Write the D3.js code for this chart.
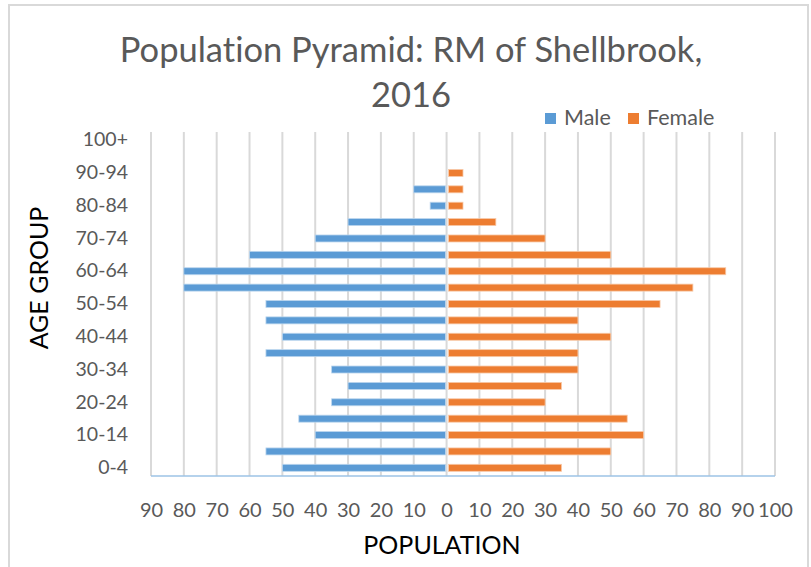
<!DOCTYPE html>
<html>
<head>
<meta charset="utf-8">
<script src="https://cdn.jsdelivr.net/npm/d3@7"></script>
<style>
  body { margin: 0; background: #fff; }
  text { font-family: Lato, "Open Sans", sans-serif; font-variant-ligatures: none; }
</style>
</head>
<body>
<div id="chart"></div>
<script>
// Age groups, bottom to top
const ageGroups = ["0-4", "5-9", "10-14", "15-19", "20-24", "25-29", "30-34", "35-39",
  "40-44", "45-49", "50-54", "55-59", "60-64", "65-69", "70-74", "75-79",
  "80-84", "85-89", "90-94", "95-99", "100+"];
const maleValues = [50, 55, 40, 45, 35, 30, 35, 55, 50, 55, 55, 80, 80, 60, 40, 30, 5, 10, 0, 0, 0];
const femaleValues = [35, 50, 60, 55, 30, 35, 40, 40, 50, 40, 65, 75, 85, 50, 30, 15, 5, 5, 5, 0, 0];
const shownAgeLabels = ["0-4", "10-14", "20-24", "30-34", "40-44", "50-54", "60-64", "70-74", "80-84", "90-94", "100+"];
const xTicks = d3.range(-90, 101, 10);
const seriesNames = ["Male", "Female"];

const width = 811;
const height = 567;
const plot = { left: 151, right: 775, top: 132, bottom: 476 };
const colors = { Male: "#5B9BD5", Female: "#ED7D31" };

const svg = d3.select("#chart")
  .append("svg")
  .attr("width", width)
  .attr("height", height);

// Chart frame
svg.append("rect")
  .attr("x", 9)
  .attr("y", 5)
  .attr("width", 799)
  .attr("height", 580)
  .attr("fill", "#fff")
  .attr("stroke", "#d9d9d9")
  .attr("stroke-width", 2);

// Scales
const x = d3.scaleLinear()
  .domain([-90, 100])
  .range([plot.left, plot.right]);
const y = d3.scaleBand()
  .domain(ageGroups)
  .range([plot.bottom, plot.top]);

// Vertical gridlines
svg.append("g")
  .selectAll("line")
  .data(xTicks)
  .enter()
  .append("line")
    .attr("x1", d => x(d))
    .attr("x2", d => x(d))
    .attr("y1", plot.top)
    .attr("y2", plot.bottom)
    .attr("stroke", "#d9d9d9")
    .attr("stroke-width", 2);

// Bars
const barH = 7;
const rows = ageGroups.map((g, i) => ({ group: g, male: maleValues[i], female: femaleValues[i] }));

svg.append("g")
  .selectAll("rect")
  .data(rows.filter(d => d.male > 0))
  .enter()
  .append("rect")
    .attr("x", d => x(-d.male))
    .attr("y", d => y(d.group) + y.bandwidth() / 2 - barH / 2)
    .attr("width", d => x(0) - x(-d.male) - 1)
    .attr("height", barH)
    .attr("fill", colors.Male)
    .attr("stroke", "#bcd6ee")
    .attr("stroke-width", 0.8);

svg.append("g")
  .selectAll("rect")
  .data(rows.filter(d => d.female > 0))
  .enter()
  .append("rect")
    .attr("x", x(0) + 2)
    .attr("y", d => y(d.group) + y.bandwidth() / 2 - barH / 2)
    .attr("width", d => x(d.female) - x(0) - 2)
    .attr("height", barH)
    .attr("fill", colors.Female)
    .attr("stroke", "#f8c9a8")
    .attr("stroke-width", 0.8);

// Horizontal axis line
svg.append("line")
  .attr("x1", plot.left)
  .attr("x2", plot.right)
  .attr("y1", plot.bottom)
  .attr("y2", plot.bottom)
  .attr("stroke", "#9dc3e6")
  .attr("stroke-width", 1.5);

// X tick labels
const xAxis = svg.append("g")
  .attr("transform", `translate(0, ${plot.bottom})`)
  .call(d3.axisBottom(x).tickValues(xTicks).tickSize(0).tickPadding(27)
    .tickFormat(d => Math.abs(d)));
xAxis.select(".domain").remove();
xAxis.selectAll("text")
  .attr("fill", "#595959")
  .style("font-size", "20px");

// Y tick labels
const yAxis = svg.append("g")
  .attr("transform", `translate(${plot.left}, 0)`)
  .call(d3.axisLeft(y).tickValues(shownAgeLabels).tickSize(0).tickPadding(23));
yAxis.select(".domain").remove();
yAxis.selectAll("text")
  .attr("fill", "#595959")
  .style("font-size", "19.5px");

// Axis titles
svg.append("text")
  .attr("x", 442)
  .attr("y", 554)
  .attr("text-anchor", "middle")
  .attr("fill", "#000")
  .style("font-size", "25px")
  .text("POPULATION");

svg.append("text")
  .attr("transform", "translate(48, 278) rotate(-90)")
  .attr("text-anchor", "middle")
  .attr("fill", "#000")
  .style("font-size", "25px")
  .text("AGE GROUP");

// Title
svg.append("text")
  .attr("x", 411)
  .attr("y", 62)
  .attr("text-anchor", "middle")
  .attr("fill", "#595959")
  .style("font-size", "34.5px")
  .text("Population Pyramid: RM of Shellbrook,");

svg.append("text")
  .attr("x", 411)
  .attr("y", 107)
  .attr("text-anchor", "middle")
  .attr("fill", "#595959")
  .style("font-size", "34.5px")
  .text("2016");

// Legend
const legend = svg.append("g")
  .attr("transform", "translate(545, 111)");

const legendX = [0, 83];
seriesNames.forEach((name, i) => {
  legend.append("rect")
    .attr("x", legendX[i])
    .attr("y", 2)
    .attr("width", 11)
    .attr("height", 11)
    .attr("fill", colors[name]);
  legend.append("text")
    .attr("x", legendX[i] + 19)
    .attr("y", 14)
    .attr("fill", "#595959")
    .style("font-size", "21.5px")
    .text(name);
});
</script>
</body>
</html>
